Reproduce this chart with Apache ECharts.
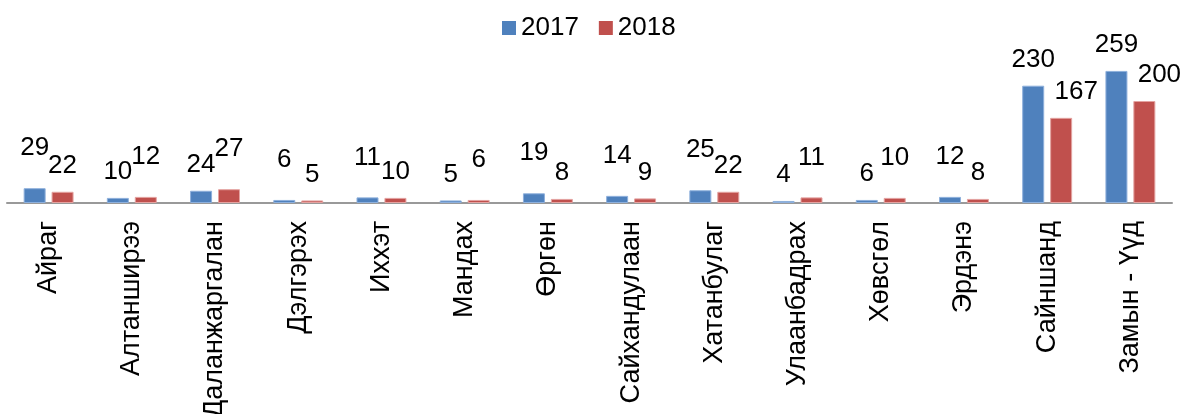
<!DOCTYPE html>
<html>
<head>
<meta charset="utf-8">
<script src="https://cdn.jsdelivr.net/npm/echarts@6/dist/echarts.min.js"></script>
<style>
  html, body { margin: 0; padding: 0; background: #fff; }
  #chart { width: 1198px; height: 414px; }
</style>
</head>
<body>
<div id="chart"></div>
<script>
// сумын нэрс
const categories = ['Айраг', 'Алтанширээ', 'Даланжаргалан', 'Дэлгэрэх', 'Иххэт', 'Мандах', 'Өргөн',
  'Сайхандулаан', 'Хатанбулаг', 'Улаанбадрах', 'Хөвсгөл', 'Эрдэнэ', 'Сайншанд', 'Замын - Үүд']
const values2017 = [29, 10, 24, 6, 11, 5, 19, 14, 25, 4, 6, 12, 230, 259]
const values2018 = [22, 12, 27, 5, 10, 6, 8, 9, 22, 11, 10, 8, 167, 200]
const seriesNames = ['2017', '2018']

const font = 'Liberation Sans, Arial, sans-serif'
const chart = echarts.init(document.getElementById('chart'))

// хоорондоо ойр байгаа шошгуудаас их утгатайг нь дээш нь зайлуулна
const withLabels = (vals, other, second) => vals.map((v, i) => {
  const close = Math.abs(v - other[i]) < 40
  const dy = close && v > other[i] ? -14 : 0
  const dx = second && v >= 100 ? 15 : 0
  return { value: v, label: { offset: [dx, dy] } }
})

const labelStyle = {
  show: true,
  position: 'top',
  distance: 13,
  color: '#000',
  fontSize: 26,
  fontFamily: font
}

chart.setOption({
  animation: false,
  legend: {
    data: seriesNames,
    top: 10,
    left: 497,
    itemWidth: 14,
    itemHeight: 14,
    itemGap: 20,
    icon: 'rect',
    itemStyle: { borderWidth: 0 },
    textStyle: { fontSize: 26, fontFamily: font, color: '#000' }
  },
  grid: { left: 7, right: 26, top: 50, bottom: 211, containLabel: false, outerBoundsMode: 'none' },
  xAxis: {
    type: 'category',
    data: categories,
    axisLine: { lineStyle: { color: '#999', width: 2 } },
    axisTick: { show: false },
    axisLabel: {
      rotate: 90,
      interval: 0,
      margin: 18,
      fontSize: 27,
      fontFamily: font,
      color: '#000'
    }
  },
  yAxis: {
    type: 'value',
    min: 0,
    max: 300,
    show: false,
    splitLine: { show: false }
  },
  series: [
    {
      name: seriesNames[0],
      type: 'bar',
      data: withLabels(values2017, values2018, false),
      barGap: '27%',
      barCategoryGap: '40%',
      itemStyle: { color: '#4F81BD', borderColor: '#8eb0dc', borderWidth: 1 },
      label: labelStyle
    },
    {
      name: seriesNames[1],
      type: 'bar',
      data: withLabels(values2018, values2017, true),
      itemStyle: { color: '#C0504D', borderColor: '#e4a3a1', borderWidth: 1 },
      label: labelStyle
    }
  ]
})
</script>
</body>
</html>
